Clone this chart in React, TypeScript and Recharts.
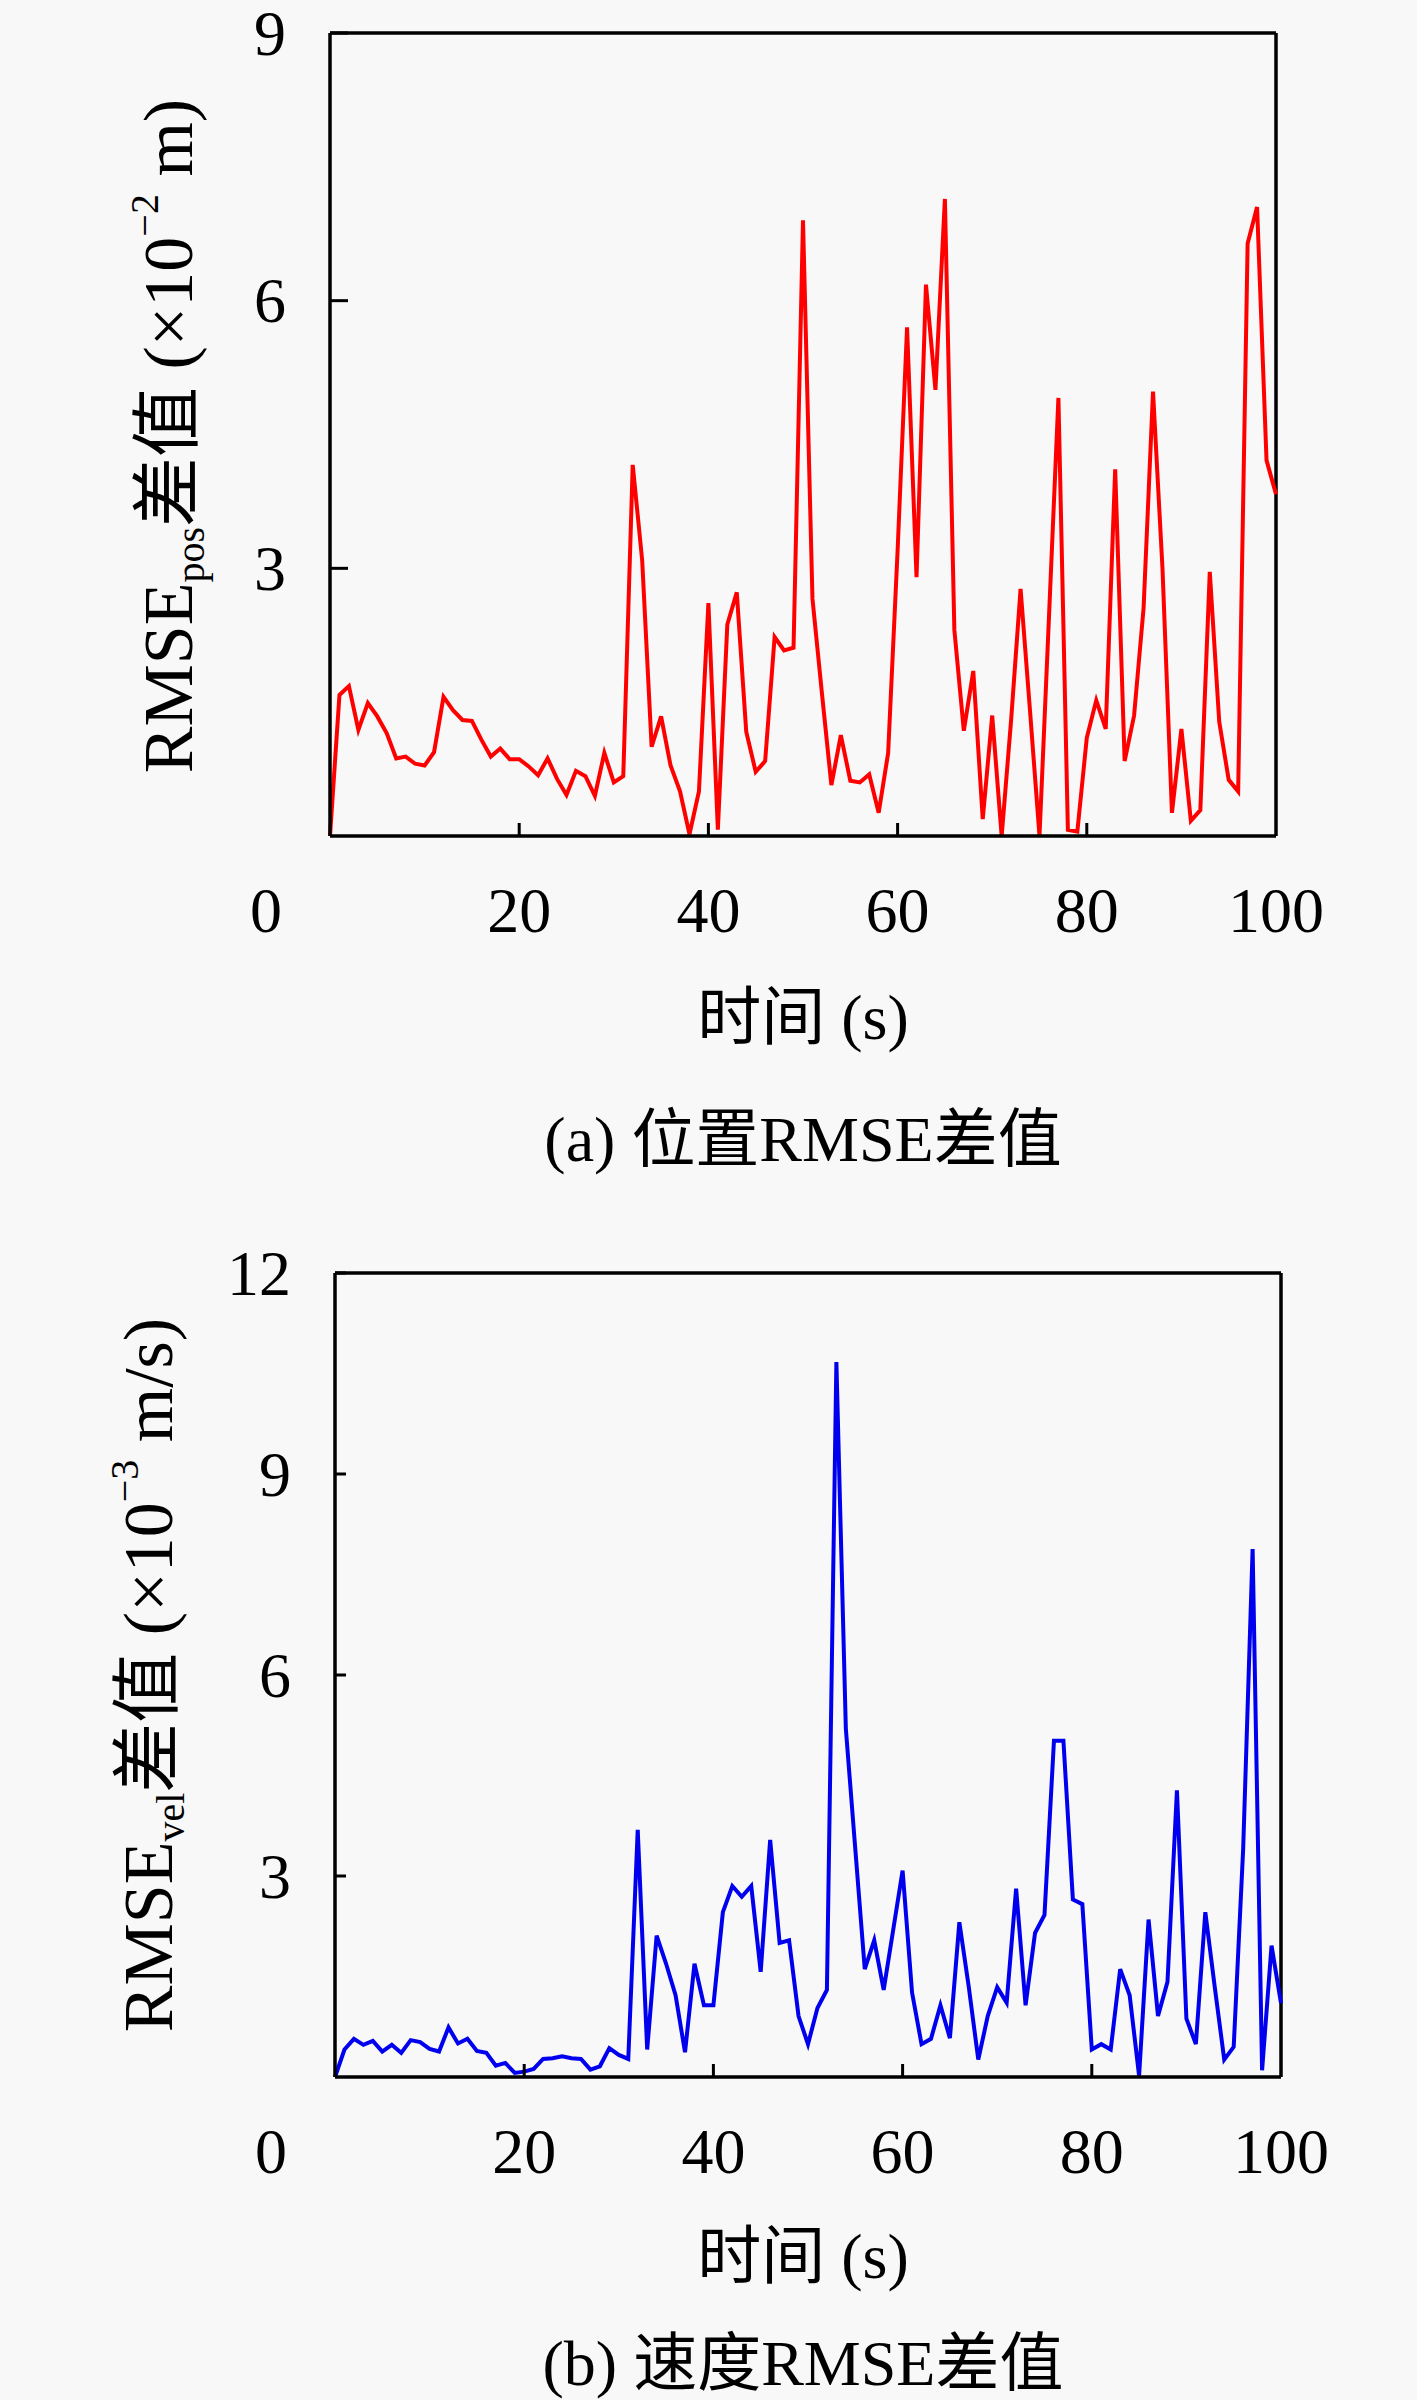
import React from 'react';
import { LineChart, Line, XAxis, YAxis, ReferenceLine } from 'recharts';

// time axis, 0..100 s, one sample per second
const timeSec = Array.from({ length: 101 }, (_, i) => i);

// (a) position RMSE difference, x10^-2 m
const posDiff = [
  0, 1.58, 1.68, 1.19, 1.49, 1.34, 1.15, 0.87, 0.89, 0.81,
  0.79, 0.94, 1.56, 1.41, 1.3, 1.29, 1.08, 0.89, 0.98, 0.86,
  0.86, 0.78, 0.68, 0.87, 0.64, 0.46, 0.73, 0.67, 0.45, 0.93,
  0.6, 0.67, 4.16, 3.09, 1.0, 1.34, 0.79, 0.5, 0.02, 0.5,
  2.61, 0.07, 2.37, 2.73, 1.17, 0.72, 0.84, 2.23, 2.08, 2.11,
  6.9, 2.66, 1.6, 0.57, 1.13, 0.62, 0.6, 0.69, 0.26, 0.93,
  3.2, 5.7, 2.9, 6.18, 5.0, 7.14, 2.31, 1.18, 1.85, 0.19,
  1.35, 0.0, 1.3, 2.77, 1.4, 0.0, 2.45, 4.91, 0.07, 0.05,
  1.1, 1.52, 1.2, 4.11, 0.84, 1.35, 2.55, 4.98, 3.0, 0.26,
  1.2, 0.17, 0.29, 2.96, 1.28, 0.63, 0.5, 6.64, 7.05, 4.21,
  3.83,
];

// (b) velocity RMSE difference, x10^-3 m/s
const velDiff = [
  0, 0.41, 0.57, 0.48, 0.54, 0.38, 0.48, 0.36, 0.55, 0.52,
  0.42, 0.38, 0.74, 0.5, 0.57, 0.39, 0.36, 0.17, 0.21, 0.06,
  0.08, 0.12, 0.27, 0.28, 0.31, 0.28, 0.27, 0.11, 0.16, 0.43,
  0.33, 0.27, 3.69, 0.41, 2.11, 1.69, 1.22, 0.37, 1.69, 1.07,
  1.07, 2.46, 2.85, 2.69, 2.85, 1.57, 3.54, 2.0, 2.04, 0.91,
  0.49, 1.03, 1.3, 10.67, 5.2, 3.4, 1.61, 2.04, 1.3, 2.19,
  3.08, 1.26, 0.49, 0.57, 1.07, 0.58, 2.31, 1.34, 0.26, 0.91,
  1.34, 1.11, 2.81, 1.07, 2.15, 2.42, 5.02, 5.02, 2.65, 2.58,
  0.41, 0.49, 0.41, 1.61, 1.22, 0.02, 2.35, 0.91, 1.42, 4.28,
  0.87, 0.49, 2.46, 1.34, 0.26, 0.45, 3.4, 7.88, 0.1, 1.96,
  1.1,
];

const xTicks = [0, 20, 40, 60, 80, 100];
const posTicks = [3, 6, 9];
const velTicks = [3, 6, 9, 12];

const FONT = "'Liberation Serif', 'Noto Sans CJK SC', serif";
const BG = '#f8f8f8';

function XTick(props: any) {
  const { x, y, payload } = props;
  const v = payload.value;
  return (
    <g>
      {v > 0 && v < 100 && (
        <line x1={x} x2={x} y1={y} y2={y - 13} stroke="#000" strokeWidth={3} />
      )}
      <text
        x={v === 0 ? x - 64 : x}
        y={y + 74}
        textAnchor="middle"
        dominantBaseline="central"
        fontSize={64}
        fontFamily={FONT}
        fill="#000"
      >
        {v}
      </text>
    </g>
  );
}

function YTick(props: any) {
  const { x, y, payload, len } = props;
  return (
    <g>
      <line x1={x} x2={x + len} y1={y} y2={y} stroke="#000" strokeWidth={3} />
      <text
        x={x - 44}
        y={y}
        textAnchor="end"
        dominantBaseline="central"
        fontSize={64}
        fontFamily={FONT}
        fill="#000"
      >
        {payload.value}
      </text>
    </g>
  );
}

function Panel(props: {
  data: { t: number; v: number }[];
  yMax: number;
  yTicks: number[];
  color: string;
  margin: { top: number; right: number; bottom: number; left: number };
  height: number;
  tickLen: number;
}) {
  const { data, yMax, yTicks, color, margin, height, tickLen } = props;
  return (
    <LineChart width={1417} height={height} data={data} margin={margin}>
      <XAxis
        dataKey="t"
        type="number"
        domain={[0, 100]}
        ticks={xTicks}
        interval={0}
        height={1}
        tickSize={0}
        tickMargin={0}
        tickLine={false}
        axisLine={{ stroke: '#000', strokeWidth: 3.5 }}
        tick={(p: any) => <XTick {...p} />}
      />
      <YAxis
        type="number"
        domain={[0, yMax]}
        ticks={yTicks}
        interval={0}
        width={1}
        tickSize={0}
        tickMargin={0}
        tickLine={false}
        axisLine={{ stroke: '#000', strokeWidth: 3.5 }}
        tick={(p: any) => <YTick {...p} len={tickLen} />}
      />
      <ReferenceLine y={yMax} stroke="#000" strokeWidth={3.5} ifOverflow="visible" />
      <ReferenceLine x={100} stroke="#000" strokeWidth={3.5} ifOverflow="visible" />
      <Line
        type="linear"
        dataKey="v"
        stroke={color}
        strokeWidth={4}
        dot={false}
        isAnimationActive={false}
      />
    </LineChart>
  );
}

const centered = (cx: number, cy: number, extra: React.CSSProperties = {}): React.CSSProperties => ({
  position: 'absolute',
  left: cx,
  top: cy,
  transform: 'translate(-50%, -50%)',
  whiteSpace: 'nowrap',
  fontFamily: FONT,
  fontSize: 64,
  color: '#000',
  lineHeight: 1,
  ...extra,
});

const rotated = (cx: number, cy: number): React.CSSProperties => ({
  ...centered(cx, cy, { fontSize: 70 }),
  transform: 'translate(-50%, -50%) rotate(-90deg)',
});

const subStyle: React.CSSProperties = { fontSize: 40, verticalAlign: '-0.3em' };
const supStyle: React.CSSProperties = { fontSize: 40, verticalAlign: '0.85em' };

export default function App() {
  const posData = timeSec.map((t, i) => ({ t, v: posDiff[i] }));
  const velData = timeSec.map((t, i) => ({ t, v: velDiff[i] }));

  return (
    <div
      style={{
        position: 'absolute',
        left: 0,
        top: 0,
        width: 1417,
        height: 2400,
        background: BG,
        overflow: 'hidden',
      }}
    >
      <div style={{ position: 'absolute', left: 0, top: 0 }}>
        <Panel
          data={posData}
          yMax={9}
          yTicks={posTicks}
          color="#ff0000"
          height={1000}
          tickLen={18}
          margin={{ top: 33, right: 141, bottom: 163, left: 329 }}
        />
      </div>
      <div style={{ position: 'absolute', left: 0, top: 1100 }}>
        <Panel
          data={velData}
          yMax={12}
          yTicks={velTicks}
          color="#0000ee"
          height={1100}
          tickLen={11}
          margin={{ top: 173, right: 136, bottom: 122, left: 334 }}
        />
      </div>

      <div style={rotated(168, 436)}>
        RMSE<span style={subStyle}>pos</span>差值 (×10<span style={supStyle}>−2</span> m)
      </div>
      <div style={centered(803, 1018)}>时间 (s)</div>
      <div style={centered(803, 1140)}>(a) 位置RMSE差值</div>

      <div style={rotated(148, 1675)}>
        RMSE<span style={subStyle}>vel</span>差值 (×10<span style={supStyle}>−3</span> m/s)
      </div>
      <div style={centered(803, 2257)}>时间 (s)</div>
      <div style={centered(803, 2364)}>(b) 速度RMSE差值</div>
    </div>
  );
}
